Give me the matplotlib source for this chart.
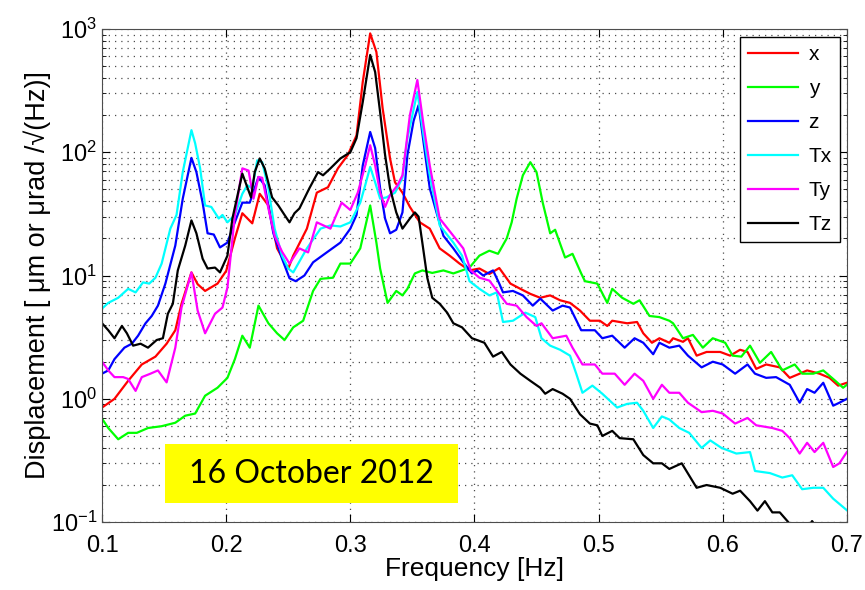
import numpy as np
import matplotlib
matplotlib.use('Agg')
import matplotlib.pyplot as plt
from matplotlib.ticker import LogLocator, MultipleLocator, NullFormatter
from matplotlib.patches import Rectangle

plt.rcParams['font.family'] = ['Liberation Sans', 'DejaVu Sans']
plt.rcParams['mathtext.default'] = 'regular'

# x (red)
f_x = [0.100, 0.110, 0.121, 0.132, 0.143, 0.152, 0.159, 0.164, 0.172, 0.177, 0.183, 0.193, 0.200, 0.207,
       0.213, 0.221, 0.227, 0.234, 0.241, 0.250, 0.254, 0.265, 0.273, 0.282, 0.290, 0.298, 0.305, 0.310,
       0.316, 0.321, 0.326, 0.332, 0.336, 0.342, 0.348, 0.356, 0.364, 0.372, 0.380, 0.388, 0.396, 0.404,
       0.412, 0.420, 0.429, 0.437, 0.445, 0.453, 0.461, 0.469, 0.477, 0.485, 0.493, 0.501, 0.507, 0.511,
       0.523, 0.531, 0.536, 0.543, 0.549, 0.557, 0.560, 0.568, 0.572, 0.579, 0.587, 0.598, 0.606, 0.614,
       0.620, 0.627, 0.635, 0.646, 0.654, 0.662, 0.668, 0.678, 0.686, 0.693, 0.700]
v_x = [0.85, 1.0, 1.4, 1.9, 2.2, 2.8, 3.6, 5.9, 10.6, 8.5, 7.5, 8.6, 10.9, 20,
       32, 26.5, 46, 37, 16.6, 11.4, 14.5, 24, 47, 52, 74, 95, 137, 371,
       920, 650, 228, 89, 57, 47, 36, 27, 24, 16.6, 14.5, 12.5, 11, 11.4,
       10.3, 11.5, 8.6, 7.8, 7.1, 6.6, 6.9, 6.3, 6.0, 5.2, 4.3, 4.3, 3.9, 4.3,
       4.1, 4.2, 3.4, 2.85, 3.1, 2.85, 3.1, 2.9, 3.1, 2.24, 2.4, 2.4, 2.24, 2.5,
       2.4, 1.75, 1.9, 1.8, 1.48, 1.6, 1.7, 1.6, 1.48, 1.28, 1.35]

# y (green)
f_y = [0.100, 0.105, 0.113, 0.121, 0.128, 0.137, 0.148, 0.159, 0.167, 0.175, 0.183, 0.193, 0.201, 0.207,
       0.213, 0.219, 0.226, 0.234, 0.241, 0.247, 0.254, 0.262, 0.270, 0.276, 0.286, 0.292, 0.300, 0.308,
       0.316, 0.321, 0.324, 0.330, 0.337, 0.342, 0.346, 0.352, 0.358, 0.366, 0.375, 0.383, 0.390, 0.396,
       0.404, 0.412, 0.419, 0.426, 0.430, 0.434, 0.439, 0.445, 0.450, 0.455, 0.461, 0.465, 0.473, 0.479,
       0.486, 0.489, 0.499, 0.507, 0.511, 0.519, 0.528, 0.533, 0.541, 0.549, 0.557, 0.560, 0.568, 0.576,
       0.584, 0.592, 0.602, 0.608, 0.615, 0.622, 0.630, 0.639, 0.648, 0.658, 0.664, 0.673, 0.681, 0.689,
       0.697, 0.700]
v_y = [0.69, 0.58, 0.47, 0.53, 0.53, 0.58, 0.60, 0.64, 0.73, 0.76, 1.06, 1.23, 1.48, 2.1,
       3.25, 2.6, 5.7, 4.1, 3.4, 3.0, 3.8, 4.3, 7.5, 9.4, 9.6, 12.5, 12.5, 16.6,
       37, 18.5, 11.4, 6.0, 7.5, 6.9, 7.8, 10.4, 11, 10.5, 11, 10.4, 11, 11.6,
       14.5, 15.9, 15, 20, 27, 42, 65, 83, 69, 39, 22, 23.5, 14, 15,
       10.4, 9.0, 8.6, 6.0, 7.8, 6.6, 5.9, 6.3, 4.7, 4.6, 4.3, 4.1, 3.1, 3.3,
       2.6, 3.1, 2.85, 2.24, 2.2, 2.7, 1.96, 2.4, 1.7, 1.9, 1.6, 1.6, 1.7, 1.45,
       1.23, 1.3]

# z (blue)
f_z = [0.100, 0.105, 0.110, 0.118, 0.124, 0.129, 0.135, 0.140, 0.145, 0.151, 0.159, 0.165, 0.172, 0.176,
       0.181, 0.185, 0.190, 0.195, 0.201, 0.206, 0.213, 0.219, 0.226, 0.231, 0.238, 0.245, 0.251, 0.256,
       0.263, 0.270, 0.281, 0.292, 0.300, 0.305, 0.310, 0.316, 0.320, 0.324, 0.328, 0.332, 0.337, 0.342,
       0.346, 0.351, 0.355, 0.359, 0.364, 0.370, 0.375, 0.383, 0.391, 0.398, 0.402, 0.407, 0.415, 0.420,
       0.423, 0.431, 0.439, 0.447, 0.453, 0.463, 0.471, 0.477, 0.486, 0.497, 0.503, 0.511, 0.521, 0.529,
       0.536, 0.544, 0.549, 0.557, 0.565, 0.572, 0.583, 0.592, 0.600, 0.610, 0.620, 0.626, 0.635, 0.643,
       0.654, 0.662, 0.668, 0.674, 0.681, 0.689, 0.694, 0.700]
v_z = [1.6, 1.7, 2.1, 2.6, 2.8, 3.25, 4.1, 4.7, 5.7, 8.6, 17.5, 42, 90, 69,
       39, 22, 21.5, 16.9, 18.5, 25.5, 39, 39, 63, 54, 22, 13.7, 9.5, 9.0,
       10, 12.8, 15.4, 18.5, 24, 31, 78, 146, 108, 51, 29, 22, 23.5, 32.5,
       95, 180, 241, 120, 51, 31, 21, 16.6, 12.8, 10.4, 11, 10, 11, 8.6,
       7.3, 7.5, 6.9, 5.7, 6.5, 5.2, 5.7, 5.5, 3.6, 3.6, 3.1, 3.25, 2.6, 3.1,
       2.85, 2.3, 2.85, 2.6, 2.7, 2.24, 1.8, 2.0, 1.9, 1.6, 1.9, 1.6, 1.48, 1.5,
       1.3, 0.93, 1.2, 1.12, 1.35, 0.88, 0.93, 1.0]

# Tx (cyan)
f_tx = [0.100, 0.105, 0.113, 0.121, 0.127, 0.133, 0.138, 0.143, 0.148, 0.155, 0.160, 0.165, 0.172, 0.175,
        0.179, 0.183, 0.188, 0.194, 0.197, 0.201, 0.207, 0.213, 0.217, 0.221, 0.225, 0.229, 0.234, 0.239,
        0.245, 0.250, 0.254, 0.265, 0.276, 0.284, 0.292, 0.300, 0.308, 0.312, 0.316, 0.320, 0.324, 0.329,
        0.336, 0.342, 0.346, 0.354, 0.359, 0.364, 0.372, 0.383, 0.390, 0.396, 0.404, 0.412, 0.418, 0.423,
        0.431, 0.441, 0.449, 0.454, 0.461, 0.469, 0.477, 0.482, 0.487, 0.495, 0.503, 0.515, 0.523, 0.531,
        0.536, 0.544, 0.551, 0.557, 0.565, 0.573, 0.583, 0.590, 0.599, 0.611, 0.622, 0.626, 0.638, 0.648,
        0.656, 0.664, 0.673, 0.681, 0.689, 0.700]
v_tx = [5.4, 6.0, 6.6, 7.8, 7.3, 8.8, 8.6, 9.6, 12.5, 24, 31, 69, 151, 118,
        74, 37, 36, 29, 31, 27, 31, 46, 54, 51, 86, 83, 51, 24,
        14.5, 11.4, 10.6, 16.6, 24, 25.5, 25, 27, 39, 54, 76, 57, 42, 43,
        47, 62, 130, 308, 137, 65, 25.5, 18.5, 14.5, 9, 7.8, 6.9, 7.3, 4.2,
        4.3, 5.0, 4.6, 3.1, 2.7, 2.5, 2.24, 1.6, 1.12, 1.28, 1.1, 0.85, 0.91, 0.93,
        0.8, 0.58, 0.72, 0.68, 0.58, 0.53, 0.40, 0.46, 0.40, 0.36, 0.37, 0.26, 0.25, 0.23,
        0.24, 0.185, 0.19, 0.19, 0.155, 0.125]

# Ty (magenta)
f_ty = [0.100, 0.105, 0.110, 0.117, 0.121, 0.127, 0.132, 0.139, 0.145, 0.152, 0.159, 0.164, 0.172, 0.177,
        0.183, 0.191, 0.197, 0.201, 0.207, 0.213, 0.218, 0.222, 0.226, 0.229, 0.234, 0.239, 0.245, 0.251,
        0.259, 0.266, 0.273, 0.284, 0.293, 0.300, 0.306, 0.312, 0.316, 0.320, 0.324, 0.328, 0.332, 0.338,
        0.342, 0.348, 0.354, 0.359, 0.364, 0.372, 0.383, 0.391, 0.397, 0.404, 0.412, 0.420, 0.426, 0.434,
        0.442, 0.450, 0.454, 0.463, 0.474, 0.479, 0.487, 0.497, 0.503, 0.513, 0.521, 0.529, 0.536, 0.544,
        0.551, 0.557, 0.565, 0.572, 0.583, 0.592, 0.600, 0.610, 0.620, 0.627, 0.640, 0.648, 0.654, 0.662,
        0.668, 0.674, 0.681, 0.689, 0.694, 0.700]
v_ty = [2.0, 1.7, 1.5, 1.5, 1.45, 1.16, 1.5, 1.6, 1.7, 1.36, 2.6, 5.5, 10.6, 5.2,
        3.4, 4.9, 5.5, 8, 31, 74, 71, 42, 63, 62, 35, 21, 15.6, 12.5,
        16.6, 15.4, 27, 24, 39, 34, 47, 78, 114, 78, 47, 36, 45, 54,
        65, 200, 385, 166, 78, 29, 21, 16.6, 11, 9.6, 9.1, 7.1, 5.9, 5.7,
        4.6, 3.9, 4.1, 3.1, 3.25, 2.6, 1.9, 1.9, 1.6, 1.6, 1.3, 1.6, 1.4, 1.0,
        1.3, 1.12, 1.12, 0.93, 0.78, 0.8, 0.76, 0.63, 0.70, 0.61, 0.58, 0.55, 0.48, 0.36,
        0.44, 0.37, 0.44, 0.28, 0.30, 0.37]

# Tz (black)
f_tz = [0.100, 0.105, 0.110, 0.116, 0.120, 0.125, 0.131, 0.137, 0.144, 0.149, 0.153, 0.157, 0.161, 0.167,
        0.172, 0.176, 0.181, 0.185, 0.191, 0.195, 0.201, 0.205, 0.213, 0.220, 0.223, 0.227, 0.231, 0.237,
        0.242, 0.247, 0.251, 0.255, 0.259, 0.267, 0.274, 0.278, 0.284, 0.292, 0.300, 0.305, 0.310, 0.316,
        0.320, 0.324, 0.328, 0.332, 0.337, 0.342, 0.348, 0.352, 0.355, 0.358, 0.362, 0.366, 0.372, 0.378,
        0.383, 0.390, 0.398, 0.402, 0.408, 0.415, 0.422, 0.429, 0.437, 0.445, 0.453, 0.457, 0.463, 0.471,
        0.477, 0.485, 0.493, 0.499, 0.503, 0.511, 0.517, 0.528, 0.536, 0.544, 0.551, 0.557, 0.567, 0.579,
        0.587, 0.598, 0.608, 0.614, 0.622, 0.628, 0.634, 0.640, 0.646, 0.654, 0.662, 0.670, 0.672, 0.676,
        0.690, 0.700]
v_tz = [4.1, 3.6, 3.1, 3.9, 3.4, 2.7, 2.8, 2.6, 3.0, 3.1, 4.9, 5.9, 11, 17.5,
        28, 22, 13.7, 11.4, 11.6, 10.6, 14.5, 29, 67, 43, 69, 89, 74, 43,
        37, 31, 27, 32, 35, 51, 69, 65, 74, 89, 100, 130, 255, 615,
        447, 211, 95, 51, 32.5, 24, 29, 32.5, 30, 18.5, 9.6, 6.6, 5.9, 5.0,
        4.1, 3.8, 3.1, 3.0, 2.85, 2.2, 2.4, 1.9, 1.6, 1.4, 1.23, 1.1, 1.2, 1.1,
        1.0, 0.75, 0.63, 0.61, 0.50, 0.55, 0.48, 0.47, 0.35, 0.30, 0.30, 0.27, 0.30, 0.19,
        0.20, 0.19, 0.17, 0.18, 0.148, 0.124, 0.148, 0.12, 0.12, 0.097, 0.085, 0.095, 0.102, 0.09,
        0.08, 0.08]

series = [(f_x, v_x, 'x', '#ff0000'),
          (f_y, v_y, 'y', '#00ff00'),
          (f_z, v_z, 'z', '#0000ff'),
          (f_tx, v_tx, 'Tx', '#00ffff'),
          (f_ty, v_ty, 'Ty', '#ff00ff'),
          (f_tz, v_tz, 'Tz', '#000000')]

fig = plt.figure(figsize=(8.65, 5.9), dpi=100)
ax = fig.add_axes([0.118, 0.115, 0.861, 0.836])

for f, v, lab, col in series:
    ax.plot(f, v, color=col, lw=1.6, label=lab)

ax.set_yscale('log')
ax.set_xlim(0.1, 0.7)
ax.set_ylim(0.1, 1000)
ax.xaxis.set_major_locator(MultipleLocator(0.1))
ax.xaxis.set_major_formatter(matplotlib.ticker.FormatStrFormatter('%.1f'))
ax.yaxis.set_major_locator(LogLocator(base=10, numticks=10))
ax.yaxis.set_minor_locator(LogLocator(base=10, subs=np.arange(2, 10), numticks=10))
ax.yaxis.set_minor_formatter(NullFormatter())

grid_style = dict(linestyle=(0, (1, 4)), color='0.3', lw=0.9)
ax.grid(True, which='major', **grid_style)
ax.grid(True, which='minor', axis='y', **grid_style)
ax.tick_params(which='both', direction='in', top=True, right=True, labelsize=17)
ax.tick_params(which='major', length=6)
ax.tick_params(which='minor', length=3)
ax.tick_params(axis='x', pad=9)
for s in ax.spines.values():
    s.set_color('0.3')

ax.set_xlabel('Frequency [Hz]', fontsize=19, labelpad=0)
ax.set_ylabel('Displacement [ \u03bcm or \u03bcrad /\u221a(Hz)]', fontsize=19.5, labelpad=0)

leg = ax.legend(loc='upper right', bbox_to_anchor=(0.991, 0.984), borderaxespad=0,
                fontsize=15, handlelength=2.4, labelspacing=0.72, borderpad=0.4,
                handletextpad=0.5, fancybox=False, edgecolor='black', framealpha=1)
leg.get_frame().set_linewidth(1.0)

ax.add_patch(Rectangle((0.0846, 0.0385), 0.393, 0.12, transform=ax.transAxes,
                       facecolor='#ffff00', edgecolor='none', zorder=5))
ax.text(0.281, 0.098, '16 October 2012', transform=ax.transAxes, ha='center', va='center',
        fontsize=23, family=['Lato', 'DejaVu Sans'], zorder=6)

fig.savefig('out.png', dpi=100)
